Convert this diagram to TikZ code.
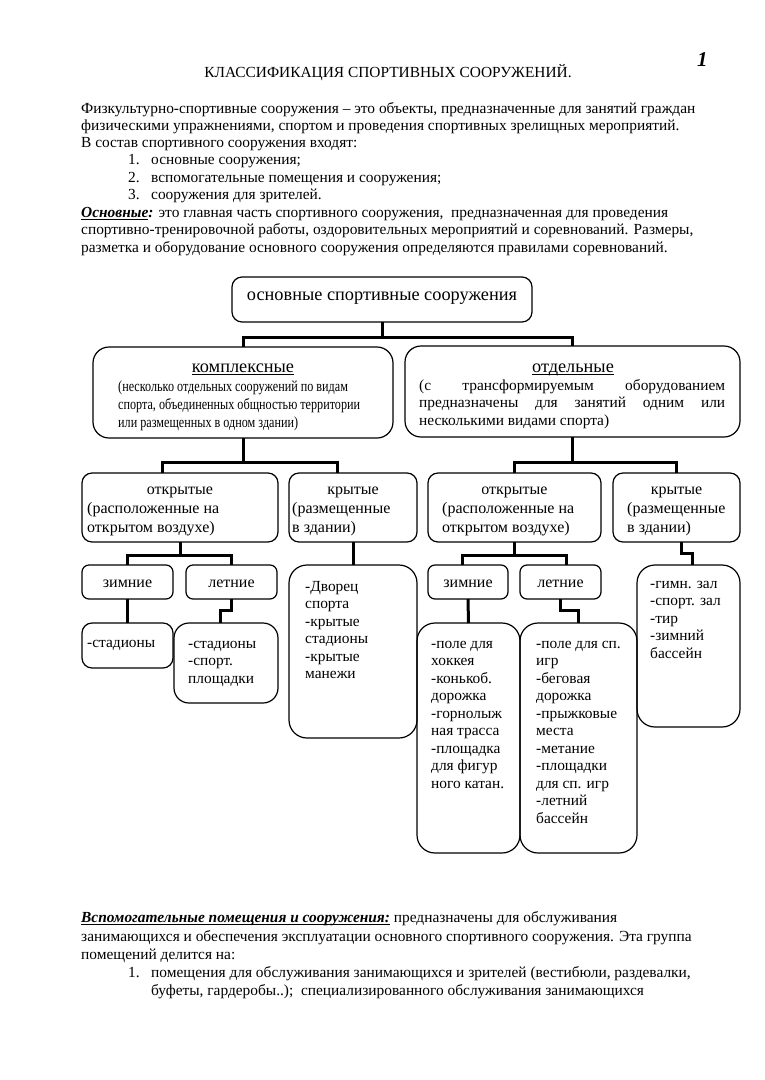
\documentclass[tikz,border=0pt]{standalone}
\usepackage{fontspec}
\setmainfont{Liberation Serif}
\newfontfamily\condfont[FakeStretch=0.79]{Liberation Serif}
\newcommand{\fbody}{\fontsize{15.4}{17.5}\selectfont}
\newcommand{\fcond}{\fontsize{15.4}{18}\selectfont}
\newcommand{\fmid}{\fontsize{16}{18.5}\selectfont}
\newcommand{\fbig}{\fontsize{18.3}{21}\selectfont}
\newcommand{\fnum}{\fontsize{21}{24}\selectfont}
\newcommand{\myul}[1]{\setbox0\hbox{#1}\rlap{\rule[-2.6pt]{\wd0}{0.9pt}}\box0}
\newcommand{\bx}[6]{\node[box, rounded corners=#6, minimum width=#4pt-#2pt, minimum height=#5pt-#3pt] (#1) at ({(#2+#4)/2},{(#3+#5)/2}) {};}
\begin{document}
\begin{tikzpicture}[x=1pt,y=-1pt,
  ln/.style={font=\fbody, inner sep=0pt, anchor=base west},
  lnc/.style={font=\fmid, inner sep=0pt, anchor=base},
  lnm/.style={font=\fmid, inner sep=0pt, anchor=base west},
  blk/.style={font=\fbody, inner sep=0pt, anchor=north west, yshift=12.25pt, align=left},
  box/.style={draw, line width=1.2pt, inner sep=0pt, outer sep=0pt},
  conn/.style={line width=3pt, line join=miter}]
\useasboundingbox (0,0) rectangle (764,1080);

% ---------- header text ----------
\node[font=\fnum\bfseries\itshape, inner sep=0pt, anchor=base west] (pnum) at (697,66) {1};
\node[font=\fbody, inner sep=0pt, anchor=base] (title) at (388,77) {КЛАССИФИКАЦИЯ СПОРТИВНЫХ СООРУЖЕНИЙ.};
\node[ln] (p1) at (81,113) {Физкультурно-спортивные сооружения – это объекты, предназначенные для занятий граждан};
\node[ln] (p2) at (81,130) {физическими упражнениями, спортом и проведения спортивных зрелищных мероприятий.};
\node[ln] (p3) at (81,147) {В состав спортивного сооружения входят:};
\node[ln] (n1) at (128,164) {1.};
\node[ln] (i1) at (151,164) {основные сооружения;};
\node[ln] (n2) at (128,182) {2.};
\node[ln] (i2) at (151,182) {вспомогательные помещения и сооружения;};
\node[ln] (n3) at (128,199) {3.};
\node[ln] (i3) at (151,199) {сооружения для зрителей.};
\node[ln] (p4) at (81,217) {\textbf{\textit{\myul{Основные}:}} это главная часть спортивного сооружения,\ \ предназначенная для проведения};
\node[ln] (p5) at (81,234) {спортивно-тренировочной работы, оздоровительных мероприятий и соревнований. Размеры,};
\node[ln] (p6) at (81,252) {разметка и оборудование основного сооружения определяются правилами соревнований.};

% ---------- boxes ----------
\bx{top}{232}{277}{532}{322}{10pt}
\bx{kompl}{93}{347}{393}{438}{16pt}
\bx{otd}{405}{346}{740}{437}{16pt}
\bx{open1}{82}{473}{278}{542}{10pt}
\bx{cov1}{289}{473}{417}{542}{10pt}
\bx{open2}{428}{473}{601}{542}{10pt}
\bx{cov2}{613}{473}{740}{542}{10pt}
\bx{win1}{82}{565}{173}{599}{7pt}
\bx{sum1}{186}{565}{277}{599}{7pt}
\bx{win2}{428}{565}{508}{599}{7pt}
\bx{sum2}{520}{565}{601}{599}{7pt}
\bx{st1}{82}{623}{173}{668}{10pt}
\bx{st2}{174}{623}{278}{703}{15pt}
\bx{dv}{289}{565}{417}{738}{18pt}
\bx{lst1}{417}{623}{520}{853}{18pt}
\bx{lst2}{520}{623}{637}{853}{18pt}
\bx{lst3}{637}{565}{740}{727}{18pt}

% ---------- connectors ----------
\coordinate (j1) at (382,337);
\coordinate (j2) at (243,462);
\coordinate (j3) at (572.5,462);
\coordinate (j4) at (180,555);
\coordinate (j5) at (514.5,555);
\draw[conn] (top.south) -- (j1);
\draw[conn] (kompl.north) |- (j1) -| (otd.north);
\draw[conn] (kompl.south) -- (j2);
\draw[conn] ([xshift=-18pt]open1.north) |- (j2) -| ([xshift=-16pt]cov1.north);
\draw[conn] (open1.south) -- (j4);
\draw[conn] (win1.north) |- (j4) -| (sum1.north);
\draw[conn] (win1.south) -- (st1.north);
\draw[conn] (sum1.south) -- ++(0,11) -| ([xshift=-6pt]st2.north);
\draw[conn] (cov1.south) -- (dv.north);
\draw[conn] (otd.south) -- (j3);
\draw[conn] (open2.north) |- (j3) -| (cov2.north);
\draw[conn] (open2.south) -- (j5);
\draw[conn] ([xshift=-6pt]win2.north) |- (j5) -| ([xshift=6pt]sum2.north);
\draw[conn] (win2.south) -- (lst1.north);
\draw[conn] (sum2.south) -- ++(0,11) -| (lst2.north);
\draw[conn] ([xshift=5pt]cov2.south) -- ++(0,11) -| ([xshift=4pt]lst3.north);

% ---------- box texts ----------
\node[font=\fbig, inner sep=0pt, anchor=base] (ttop) at (382,300) {основные спортивные сооружения};
\node[font=\fbig, inner sep=0pt, anchor=base] (tkompl) at (243,372) {\myul{комплексные}};
\node[blk, font=\fcond\condfont, yshift=0.35pt] (tkompl2) at (118,391) {\strut(несколько отдельных сооружений по видам\\спорта, объединенных общностью территории\\или размещенных в одном здании)};
\node[font=\fbig, inner sep=0pt, anchor=base] (totd) at (573,372) {\myul{отдельные}};
\node[blk] (totd2) at (419,390) {\strut\makebox[306pt][s]{(с трансформируемым оборудованием}\\\makebox[306pt][s]{предназначены для занятий одним или}\\несколькими видами спорта)};

\node[lnc] (to1a) at (180,494) {открытые};
\node[lnm] (to1b) at (87,513) {(расположенные на};
\node[lnm] (to1c) at (87,532) {открытом воздухе)};
\node[lnc] (tc1a) at (353,494) {крытые};
\node[lnm] (tc1b) at (292,513) {(размещенные};
\node[lnm] (tc1c) at (292,532) {в здании)};
\node[lnc] (to2a) at (514.5,494) {открытые};
\node[lnm] (to2b) at (442,513) {(расположенные на};
\node[lnm] (to2c) at (442,532) {открытом воздухе)};
\node[lnc] (tc2a) at (676.5,494) {крытые};
\node[lnm] (tc2b) at (627,513) {(размещенные};
\node[lnm] (tc2c) at (627,532) {в здании)};

\node[lnc] (tw1) at (127.5,587) {зимние};
\node[lnc] (ts1) at (231.5,587) {летние};
\node[lnc] (tw2) at (468,587) {зимние};
\node[lnc] (ts2) at (560.5,587) {летние};

\node[blk] (tst1) at (87,647) {\strut-стадионы};
\node[blk] (tst2) at (188,648) {\strut-стадионы\\-спорт.\\площадки};
\node[blk] (tdv) at (305,591) {\strut-Дворец\\спорта\\-крытые\\стадионы\\-крытые\\манежи};
\node[blk] (tl1) at (431,648) {\strut-поле для\\хоккея\\-конькоб.\\дорожка\\-горнолыж\\ная трасса\\-площадка\\для фигур\\ного катан.};
\node[blk] (tl2) at (536,648) {\strut-поле для сп.\\игр\\-беговая\\дорожка\\-прыжковые\\места\\-метание\\-площадки\\для сп. игр\\-летний\\бассейн};
\node[blk] (tl3) at (650,588) {\strut-гимн. зал\\-спорт. зал\\-тир\\-зимний\\бассейн};

% ---------- footer text ----------
\node[ln] (q1) at (81,922) {\textbf{\textit{\myul{Вспомогательные помещения и сооружения:}}} предназначены для обслуживания};
\node[ln] (q2) at (81,941) {занимающихся и обеспечения эксплуатации основного спортивного сооружения. Эта группа};
\node[ln] (q3) at (81,959) {помещений делится на:};
\node[ln] (m1) at (128,977) {1.};
\node[ln] (q4) at (151,977) {помещения для обслуживания занимающихся и зрителей (вестибюли, раздевалки,};
\node[ln] (q5) at (151,995) {буфеты, гардеробы..);\ \ специализированного обслуживания занимающихся};
\end{tikzpicture}
\end{document}
